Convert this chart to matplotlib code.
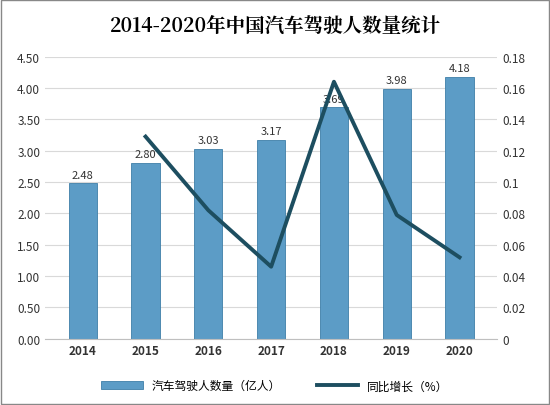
import matplotlib.pyplot as plt
import matplotlib.ticker as mticker

plt.rcParams['font.family'] = ['Noto Sans CJK SC', 'DejaVu Sans']

years = ['2014', '2015', '2016', '2017', '2018', '2019', '2020']
drivers = [2.48, 2.80, 3.03, 3.17, 3.69, 3.98, 4.18]
growth_years = ['2015', '2016', '2017', '2018', '2019', '2020']
growth = [0.129, 0.082, 0.046, 0.164, 0.079, 0.052]

fig = plt.figure(figsize=(5.5, 4.06), dpi=100)
fig.patches.append(plt.Rectangle((0.002, 0.002), 0.996, 0.996, transform=fig.transFigure,
                                 fill=False, edgecolor='#888888', linewidth=1))
ax = fig.add_axes([0.082, 0.163, 0.822, 0.695])
x = list(range(len(years)))
bars = ax.bar(x, drivers, width=0.45, color='#5c9cc6', edgecolor='#3f7fa8', linewidth=0.6, zorder=2)
for xi, v in zip(x, drivers):
    ax.text(xi, v + 0.06, f'{v:.2f}', ha='center', va='bottom', fontsize=8, color='#333333', zorder=1)
ax.set_ylim(0, 4.5)
ax.yaxis.set_major_locator(mticker.MultipleLocator(0.5))
ax.yaxis.set_major_formatter(mticker.FormatStrFormatter('%.2f'))
ax.grid(axis='y', color='#d9d9d9', linewidth=0.8, zorder=0)
ax.set_axisbelow(True)
ax.set_xticks(x)
ax.set_xticklabels(years, fontweight='bold')
ax.set_xlim(-0.6, 6.6)
for s in ['top', 'right', 'left']:
    ax.spines[s].set_visible(False)
ax.spines['bottom'].set_color('#bfbfbf')
ax.tick_params(length=0, labelsize=8.5, colors='#333333')

ax2 = ax.twinx()
gx = [years.index(y) for y in growth_years]
line, = ax2.plot(gx, growth, color='#1d4e60', linewidth=2.8, zorder=3)
ax2.set_ylim(0, 0.18)
ax2.yaxis.set_major_locator(mticker.MultipleLocator(0.02))
ax2.yaxis.set_major_formatter(mticker.FuncFormatter(lambda v, p: '0' if v == 0 else f'{v:g}'))
for s in ax2.spines.values():
    s.set_visible(False)
ax2.tick_params(length=0, labelsize=8.5, colors='#333333')

fig.text(0.5, 0.935, '2014-2020年中国汽车驾驶人数量统计', ha='center', va='center',
         fontsize=14, family=['Noto Serif CJK SC', 'Noto Sans CJK SC', 'DejaVu Serif'], fontweight='bold')
fig.legend([bars, line], ['汽车驾驶人数量（亿人）', '同比增长（%）'], loc='lower center',
           bbox_to_anchor=(0.5, 0.005), ncol=2, frameon=False, fontsize=8.5, handlelength=3.5,
           columnspacing=3)
fig.savefig('out.png', dpi=100)
